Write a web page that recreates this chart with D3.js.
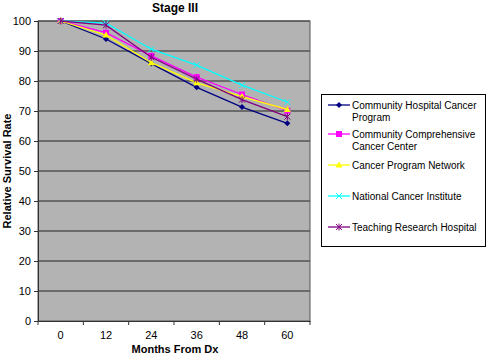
<!DOCTYPE html>
<html><head><meta charset="utf-8">
<script src="https://cdn.jsdelivr.net/npm/d3@7"></script>
<style>body{margin:0;background:#fff;} text{font-family:"Liberation Sans",Arial,sans-serif;}</style>
</head><body>
<svg id="c" width="487" height="355"></svg>
<script>
const categories = ["0","12","24","36","48","60"];
const yTicks = [0,10,20,30,40,50,60,70,80,90,100];
const seriesNames = ["Community Hospital Cancer Program","Community Comprehensive Cancer Center","Cancer Program Network","National Cancer Institute","Teaching Research Hospital"];
const communityHospital = [100, 94, 85.8, 77.9, 71.3, 65.9];
const comprehensiveCenter = [100, 96.1, 88.4, 81.3, 75.5, 70.1];
const programNetwork = [100, 95.3, 86.1, 79.4, 74.8, 70.5];
const nationalInstitute = [100, 99.3, 90.6, 85.3, 78.6, 73.0];
const teachingHospital = [100, 98.6, 87.9, 80.6, 73.8, 68.1];
const seriesValues = [communityHospital, comprehensiveCenter, programNetwork, nationalInstitute, teachingHospital];
const colors = ["#000080","#ff00ff","#ffff00","#00ffff","#800080"];
const markers = ["diamond","square","triangle","x","star"];

const svg = d3.select("#c");
const L=38, R=310, T=21, B=321;
const x = d3.scaleBand().domain(categories).range([L,R]);
const y = d3.scaleLinear().domain([0,100]).range([B,T]);

svg.append("rect").attr("x",L).attr("y",T).attr("width",R-L).attr("height",B-T).attr("fill","#b3b3b3");
svg.append("g").selectAll("line").data(yTicks.filter(d=>d>0)).join("line")
  .attr("x1",L).attr("x2",R).attr("y1",d=>y(d)).attr("y2",d=>y(d)).attr("stroke","#222").attr("stroke-width",1);
svg.append("rect").attr("x",L).attr("y",T).attr("width",R-L).attr("height",B-T).attr("fill","none").attr("stroke","#555").attr("stroke-width",1);

const ya = svg.append("g").attr("transform",`translate(${L},0)`).call(d3.axisLeft(y).tickValues(yTicks).tickSize(4).tickPadding(3));
ya.select(".domain").attr("stroke","#333");
ya.selectAll("line").attr("stroke","#333");
ya.selectAll("text").attr("font-size",11).attr("fill","#000").style("font-family","Liberation Sans, Arial, sans-serif");
const xa = svg.append("g").attr("transform",`translate(0,${B})`).call(d3.axisBottom(x).tickSize(0).tickPadding(10));
xa.select(".domain").attr("stroke","#333");
xa.selectAll("text").attr("font-size",11).attr("fill","#000").style("font-family","Liberation Sans, Arial, sans-serif");
const bounds = categories.map(c=>x(c)).concat([R]);
svg.append("g").selectAll("line").data(bounds).join("line")
  .attr("x1",d=>d).attr("x2",d=>d).attr("y1",B).attr("y2",B+4).attr("stroke","#333");

svg.append("text").attr("x",175).attr("y",12).attr("text-anchor","middle").attr("font-size",12).attr("font-weight","bold").text("Stage III");
svg.append("text").attr("x",175).attr("y",353).attr("text-anchor","middle").attr("font-size",11).attr("font-weight","bold").text("Months From Dx");
svg.append("text").attr("transform","translate(11,171) rotate(-90)").attr("text-anchor","middle").attr("font-size",11).attr("font-weight","bold").text("Relative Survival Rate");

function drawMarker(g, type, cx, cy, color){
  if(type==="diamond"){
    g.append("path").attr("d",`M${cx},${cy-3}L${cx+3},${cy}L${cx},${cy+3}L${cx-3},${cy}Z`).attr("fill",color);
  } else if(type==="square"){
    g.append("rect").attr("x",cx-3).attr("y",cy-3).attr("width",6).attr("height",6).attr("fill",color);
  } else if(type==="triangle"){
    g.append("path").attr("d",`M${cx},${cy-3.5}L${cx+3.5},${cy+2.5}L${cx-3.5},${cy+2.5}Z`).attr("fill",color);
  } else if(type==="x"){
    g.append("path").attr("d",`M${cx-3},${cy-3}L${cx+3},${cy+3}M${cx-3},${cy+3}L${cx+3},${cy-3}`).attr("stroke",color).attr("stroke-width",1);
  } else {
    g.append("path").attr("d",`M${cx-3},${cy-3}L${cx+3},${cy+3}M${cx-3},${cy+3}L${cx+3},${cy-3}M${cx},${cy-3.5}L${cx},${cy+3.5}`).attr("stroke",color).attr("stroke-width",1);
  }
}

const line = d3.line().x((d,i)=>x(categories[i])+x.bandwidth()/2).y(d=>y(d));
seriesValues.forEach((vals,si)=>{
  const g = svg.append("g");
  g.append("path").datum(vals).attr("d",line).attr("fill","none").attr("stroke",colors[si]).attr("stroke-width",1.3);
  vals.forEach((v,i)=>drawMarker(g, markers[si], x(categories[i])+x.bandwidth()/2, y(v), colors[si]));
});

svg.append("rect").attr("x",321.5).attr("y",94.5).attr("width",164).attr("height",152).attr("fill","#fff").attr("stroke","#000").attr("stroke-width",1);
const legendRows = [["Community Hospital Cancer","Program"],["Community Comprehensive","Cancer Center"],[seriesNames[2]],[seriesNames[3]],[seriesNames[4]]];
const legendY = [109, 138, 169, 200, 231];
legendRows.forEach((lines,i)=>{
  const yy = legendY[i];
  const g = svg.append("g");
  g.append("line").attr("x1",328).attr("x2",350).attr("y1",yy-4).attr("y2",yy-4).attr("stroke",colors[i]).attr("stroke-width",1.3);
  drawMarker(g, markers[i], 339, yy-4, colors[i]);
  const t = g.append("text").attr("x",352).attr("y",yy).attr("font-size",10);
  lines.forEach((s,j)=>t.append("tspan").attr("x",352).attr("dy",j===0?0:12).text(s));
});
</script>
</body></html>
